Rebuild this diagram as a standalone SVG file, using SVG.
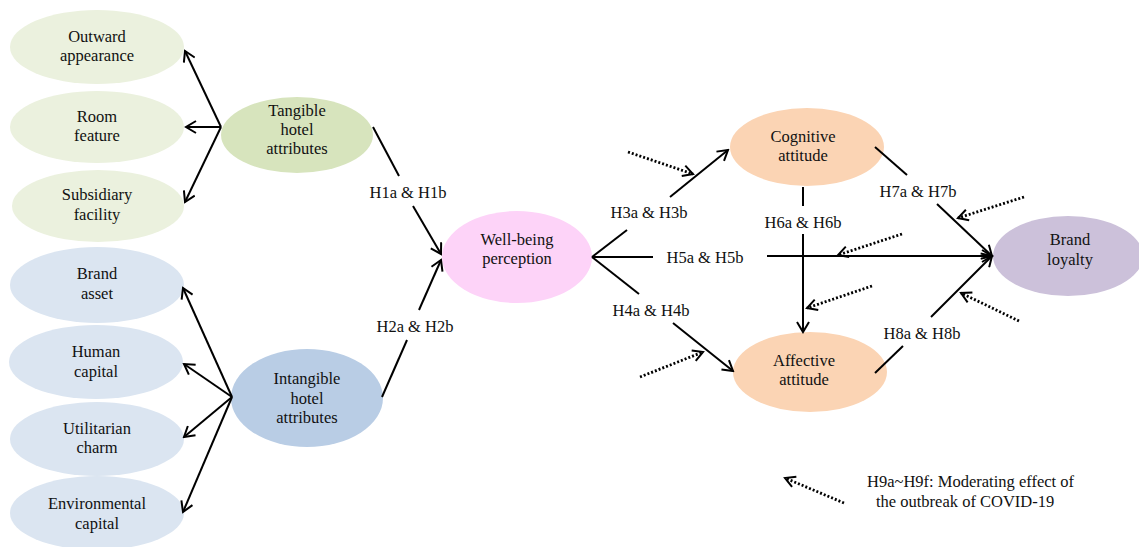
<svg xmlns="http://www.w3.org/2000/svg" width="1139" height="547" viewBox="0 0 1139 547">
<style>
text{font-family:"Liberation Serif","Times New Roman",serif;font-size:16.5px;fill:#111;text-anchor:middle}
.lg{text-anchor:start}
.c{stroke:#000;stroke-width:2;fill:none}
.a{marker-end:url(#ah)}
.d{stroke:#000;stroke-width:2.8;fill:none;stroke-dasharray:2 2;marker-end:url(#dh)}
.g1{fill:#ebf1de}.g2{fill:#d7e4bd}.b1{fill:#dbe5f1}.b2{fill:#b9cde5}.pk{fill:#fdd3f8}.or{fill:#fbd4b4}.pu{fill:#ccc1da}
</style>
<defs>
<marker id="ah" markerUnits="userSpaceOnUse" viewBox="0 0 14 14" markerWidth="14" markerHeight="14" refX="12" refY="7" orient="auto-start-reverse">
<path d="M2,1 L12,7 L2,13" fill="none" stroke="#000" stroke-width="2"/>
</marker>
<marker id="dh" markerUnits="userSpaceOnUse" viewBox="0 0 14 14" markerWidth="14" markerHeight="14" refX="12" refY="7" orient="auto">
<path d="M2,1.5 L12,7 L2,12.5" fill="none" stroke="#000" stroke-width="2"/>
</marker>
</defs>
<rect width="1139" height="547" fill="#fff"/>
<g id="n-outward"><ellipse class="g1" cx="97" cy="47" rx="87" ry="37"/><text x="97" y="42">Outward</text><text x="97" y="61">appearance</text></g>
<g id="n-room"><ellipse class="g1" cx="97" cy="127" rx="87" ry="36"/><text x="97" y="122">Room</text><text x="97" y="141">feature</text></g>
<g id="n-subsidiary"><ellipse class="g1" cx="98" cy="206" rx="86" ry="36"/><text x="97" y="200">Subsidiary</text><text x="97" y="220">facility</text></g>
<g id="n-tangible"><ellipse class="g2" cx="297" cy="135" rx="76" ry="38"/><text x="297" y="116">Tangible</text><text x="297" y="135">hotel</text><text x="297" y="154">attributes</text></g>
<g id="n-brandasset"><ellipse class="b1" cx="97" cy="285" rx="87" ry="38"/><text x="97" y="279">Brand</text><text x="97" y="299">asset</text></g>
<g id="n-human"><ellipse class="b1" cx="96" cy="362" rx="87" ry="37"/><text x="96" y="357">Human</text><text x="96" y="377">capital</text></g>
<g id="n-utilitarian"><ellipse class="b1" cx="97" cy="439" rx="87" ry="37"/><text x="97" y="434">Utilitarian</text><text x="97" y="453">charm</text></g>
<g id="n-environmental"><ellipse class="b1" cx="97" cy="513" rx="87" ry="37"/><text x="97" y="509">Environmental</text><text x="97" y="529">capital</text></g>
<g id="n-intangible"><ellipse class="b2" cx="307" cy="398" rx="76" ry="49"/><text x="307" y="384">Intangible</text><text x="307" y="404">hotel</text><text x="307" y="423">attributes</text></g>
<g id="n-wellbeing"><ellipse class="pk" cx="517" cy="257" rx="75" ry="46"/><text x="517" y="245">Well-being</text><text x="517" y="264">perception</text></g>
<g id="n-cognitive"><ellipse class="or" cx="807" cy="147" rx="77" ry="39"/><text x="803" y="142">Cognitive</text><text x="803" y="161">attitude</text></g>
<g id="n-affective"><ellipse class="or" cx="810" cy="372" rx="77" ry="40"/><text x="804" y="366">Affective</text><text x="804" y="385">attitude</text></g>
<g id="n-loyalty"><ellipse class="pu" cx="1068" cy="256" rx="75" ry="40"/><text x="1070" y="245">Brand</text><text x="1070" y="265">loyalty</text></g>
<g id="connectors">
<path class="c a" d="M221,127 L185,51"/>
<path class="c a" d="M221,127 L186,127"/>
<path class="c a" d="M221,127 L185,202"/>
<path class="c a" d="M232,397 L183,288"/>
<path class="c a" d="M232,397 L184,364"/>
<path class="c a" d="M232,397 L184,437"/>
<path class="c a" d="M232,397 L183,512"/>
<path class="c" d="M373,127 L399,176"/>
<path class="c a" d="M413,206 L441,254"/>
<path class="c" d="M382,397 L407,340"/>
<path class="c a" d="M419,310 L441,260"/>
<path class="c" d="M592,257 L627,230"/>
<path class="c a" d="M670,197 L728,150"/>
<path class="c" d="M592,257 L653,257"/>
<path class="c a" d="M767,256 L992,256"/>
<path class="c" d="M592,257 L639,294"/>
<path class="c a" d="M673,323 L733,371"/>
<path class="c" d="M803,187 L803,206"/>
<path class="c a" d="M803,234 L803,332"/>
<path class="c" d="M875,147 L907,175"/>
<path class="c a" d="M937,204 L992,256"/>
<path class="c" d="M875,373 L903,346"/>
<path class="c a" d="M931,317 L992,256"/>
<path class="d" d="M628,152 L693,174"/>
<path class="d" d="M640,377 L703,352"/>
<path class="d" d="M902,234 L838,255"/>
<path class="d" d="M872,286 L807,308"/>
<path class="d" d="M1024,197 L958,218"/>
<path class="d" d="M1019,321 L961,293"/>
<path class="d" d="M844,503 L785,478"/>
<text x="408" y="198">H1a &amp; H1b</text>
<text x="415" y="332">H2a &amp; H2b</text>
<text x="649" y="218">H3a &amp; H3b</text>
<text x="705" y="263">H5a &amp; H5b</text>
<text x="651" y="316">H4a &amp; H4b</text>
<text x="803" y="228">H6a &amp; H6b</text>
<text x="918" y="197">H7a &amp; H7b</text>
<text x="922" y="339">H8a &amp; H8b</text>
</g>
<g id="legend">
<text class="lg" x="867" y="487">H9a~H9f: Moderating effect of</text>
<text class="lg" x="876" y="507">the outbreak of COVID-19</text>
</g>
</svg>
